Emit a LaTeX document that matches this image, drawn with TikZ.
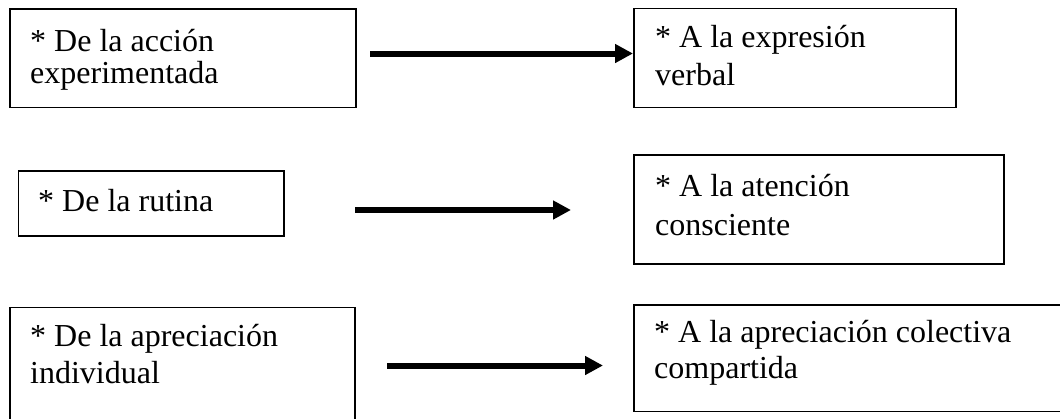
\documentclass[tikz,border=0pt]{standalone}
\usepackage{fontspec}
\setmainfont{Liberation Serif}
\usetikzlibrary{arrows.meta}
\newcommand\twolines[3]{\vtop{\lineskiplimit=-100pt\baselineskip=#1\hbox{#2}\hbox{#3}}}
\begin{document}
\begin{tikzpicture}[x=1pt,y=-1pt,
  box/.style={draw, line width=1.5pt, inner sep=0pt, anchor=north west},
  txt/.style={inner sep=0pt, anchor=base west, font=\fontsize{32}{32}\selectfont},
  conn/.style={line width=6pt, -{Triangle[length=18pt,width=18pt]}}]
\useasboundingbox (0,0) rectangle (1060,418);
\clip (0,0) rectangle (1060,418);
% boxes
\node[box, minimum width=346pt, minimum height=98.5pt] (b1) at (9,8) {};
\node[box, minimum width=322pt, minimum height=99pt] (b2) at (633,7.5) {};
\node[box, minimum width=265.5pt, minimum height=65pt] (b3) at (17.5,170) {};
\node[box, minimum width=370pt, minimum height=109pt] (b4) at (633,154) {};
\node[box, minimum width=345pt, minimum height=120pt] (b5) at (9,306.5) {};
\node[box, minimum width=440pt, minimum height=106.5pt] (b6) at (633,304) {};
% texts
\node[txt] (t1) at (30,51) {\twolines{32pt}{* De la acción}{experimentada}};
\node[txt] (t2) at (655,47) {\twolines{38pt}{* A la expresión}{verbal}};
\node[txt] (t3) at (38,211) {* De la rutina};
\node[txt] (t4) at (655,196) {\twolines{39pt}{* A la atención}{consciente}};
\node[txt] (t5) at (30,346) {\twolines{37pt}{* De la apreciación}{individual}};
\node[txt] (t6) at (654,342.5) {\twolines{35.5pt}{* A la apreciación colectiva}{compartida}};
% connectors
\coordinate (a1s) at (370,53.5);
\coordinate (a2s) at (355,210);
\coordinate (a2e) at (571,210);
\coordinate (a3s) at (387,365.5);
\coordinate (a3e) at (603,365.5);
\draw[conn] (a1s) -- (a1s -| b2.west);
\draw[conn] (a2s) -- (a2e);
\draw[conn] (a3s) -- (a3e);
\end{tikzpicture}
\end{document}
